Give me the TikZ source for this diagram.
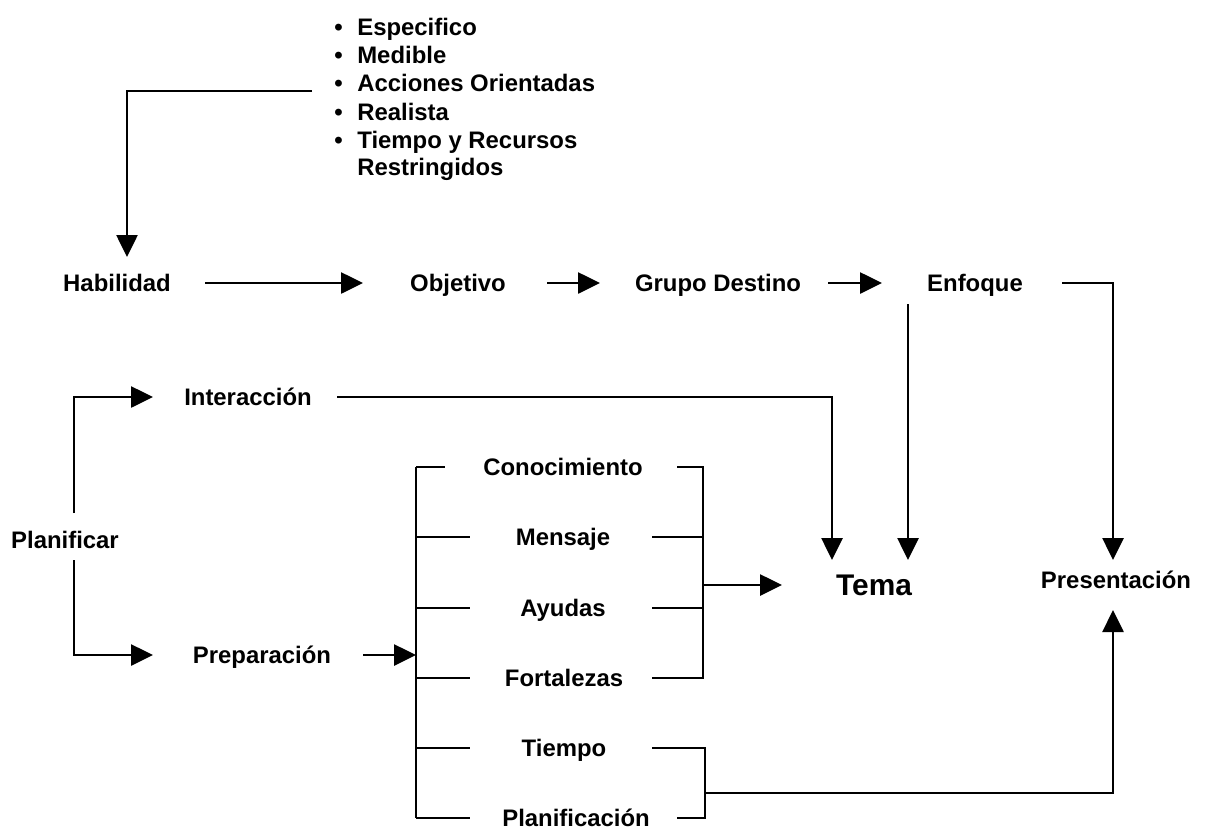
\documentclass[tikz,border=0pt]{standalone}
\usepackage{fontspec}
\setmainfont{Liberation Sans}
\usetikzlibrary{arrows.meta}
\begin{document}
\begin{tikzpicture}[x=0.02cm,y=-0.02cm,
  lbl/.style={font=\bfseries\fontsize{13.6}{16}\selectfont, inner sep=0pt,
    text height=0.34cm, text depth=0cm},
  bigl/.style={font=\bfseries\fontsize{17}{20}\selectfont, inner sep=0pt,
    text height=0.43cm, text depth=0cm},
  item/.style={lbl, anchor=west},
  wire/.style={line width=1.5pt},
  arr/.style={wire, -{Triangle[length=0.44cm,width=0.42cm]}}]
\useasboundingbox[fill=white] (0,0) rectangle (1212,832);

% criteria list
\node[item] (l1) at (334,27)  {\makebox[0.46cm][l]{•}Especifico};
\node[item] (l2) at (334,55)  {\makebox[0.46cm][l]{•}Medible};
\node[item] (l3) at (334,83)  {\makebox[0.46cm][l]{•}Acciones Orientadas};
\node[item] (l4) at (334,112) {\makebox[0.46cm][l]{•}Realista};
\node[item] (l5) at (334,140) {\makebox[0.46cm][l]{•}Tiempo y Recursos};
\node[item] (l6) at (357,167) {Restringidos};

% main row
\node[lbl] (hab) at (117,283) {Habilidad};
\node[lbl] (obj) at (458,283) {Objetivo};
\node[lbl] (grp) at (718,283) {Grupo Destino};
\node[lbl] (enf) at (975,283) {Enfoque};

% planning branch
\node[lbl] (plan) at (65,540)  {Planificar};
\node[lbl] (inter) at (248,397) {Interacción};
\node[lbl] (prep) at (262,655) {Preparación};

% preparation items
\node[lbl] (con) at (563,467) {Conocimiento};
\node[lbl] (men) at (563,537) {Mensaje};
\node[lbl] (ayu) at (563,608) {Ayudas};
\node[lbl] (fort) at (564,678) {Fortalezas};
\node[lbl] (tie) at (564,748) {Tiempo};
\node[lbl] (pla) at (576,818) {Planificación};

% targets
\node[bigl] (tema) at (874,585) {Tema};
\node[lbl] (pres) at (1116,580) {Presentación};

% connector end points
\coordinate (listOut) at (312,91);
\coordinate (habIn) at (127,257);
\coordinate (habOut) at (205,283);
\coordinate (objIn) at (363,283);
\coordinate (objOut) at (547,283);
\coordinate (grpIn) at (600,283);
\coordinate (grpOut) at (828,283);
\coordinate (enfIn) at (882,283);
\coordinate (enfOut) at (1062,283);
\coordinate (enfDown) at (908,304);
\coordinate (temaInA) at (832,560);
\coordinate (temaInB) at (908,560);
\coordinate (temaInC) at (782,585);
\coordinate (presInTop) at (1113,560);
\coordinate (presInBot) at (1113,610);
\coordinate (intOut) at (337,397);
\coordinate (planUp) at (74,513);
\coordinate (planDn) at (74,560);
\coordinate (intIn) at (153,397);
\coordinate (prepIn) at (153,655);
\coordinate (prepOut) at (363,655);
\coordinate (brkIn) at (416,655);
\coordinate (brkTop) at (416,467);
\coordinate (brkBot) at (416,818);
\coordinate (grpA) at (703,585);
\coordinate (grpB) at (705,793);

% top row arrows
\draw[arr] (listOut) -| (habIn);
\draw[arr] (habOut) -- (objIn);
\draw[arr] (objOut) -- (grpIn);
\draw[arr] (grpOut) -- (enfIn);
\draw[arr] (enfOut) -| (presInTop);
\draw[arr] (enfDown) -- (temaInB);
\draw[arr] (intOut) -| (temaInA);

% planning branches
\draw[arr] (planUp) |- (intIn);
\draw[arr] (planDn) |- (prepIn);
\draw[arr] (prepOut) -- (brkIn);

% left bracket
\draw[wire] (brkTop) -- (brkBot);
\draw[wire] (brkTop) -- (445,467);
\foreach \y in {537,608,678,748} \draw[wire] (416,\y) -- (470,\y);
\draw[wire] (brkBot) -- (470,818);

% right bracket to Tema
\draw[wire] (677,467) -- (703,467) -- (703,678) -- (652,678);
\draw[wire] (652,537) -- (703,537);
\draw[wire] (652,608) -- (703,608);
\draw[arr] (grpA) -- (temaInC);

% right bracket to Presentacion
\draw[wire] (652,748) -- (705,748) -- (705,818) -- (677,818);
\draw[arr] (grpB) -| (presInBot);
\end{tikzpicture}
\end{document}
